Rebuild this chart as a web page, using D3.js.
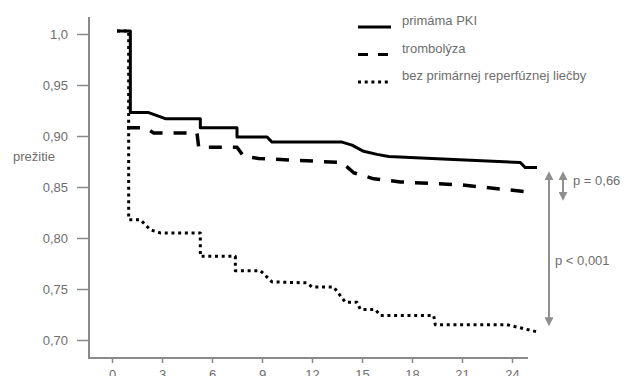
<!DOCTYPE html>
<html>
<head>
<meta charset="utf-8">
<script src="https://cdn.jsdelivr.net/npm/d3@7"></script>
<style>
  body { margin: 0; background: #fff; }
  svg { display: block; }
  text { font-family: "Liberation Sans", Arial, sans-serif; }
</style>
</head>
<body>
<script>
// data (months, survival)
const pki = [[0.3,1.003],[1.1,1.003],[1.1,0.923],[2.2,0.923],[3.2,0.917],[5.3,0.917],[5.3,0.908],
  [7.5,0.908],[7.5,0.899],[9.3,0.899],[9.6,0.894],[13.8,0.894],[14.4,0.891],[15.1,0.885],[15.9,0.882],
  [16.6,0.880],[20.5,0.877],[24.5,0.874],[24.8,0.869],[25.5,0.869]];
const tromb = [[0.9,0.908],[2.0,0.908],[2.5,0.903],[5.1,0.903],[5.2,0.889],[7.5,0.889],[7.9,0.880],
  [8.8,0.878],[13.8,0.874],[14.5,0.864],[15.7,0.858],[17.3,0.855],[21.0,0.852],[25.1,0.845]];
const bez = [[0.3,1.003],[1.0,1.003],[1.0,0.818],[1.7,0.818],[2.3,0.808],[2.9,0.805],[5.3,0.805],
  [5.3,0.782],[7.4,0.782],[7.4,0.768],[8.9,0.768],[9.6,0.757],[11.7,0.756],[12.0,0.752],[13.3,0.752],
  [14.0,0.737],[14.7,0.737],[14.9,0.730],[15.8,0.730],[16.1,0.724],[19.3,0.724],[19.4,0.715],
  [23.7,0.715],[25.5,0.708]];

const seriesNames = ["primáma PKI", "trombolýza", "bez primárnej reperfúznej liečby"];
const xTicks = [0, 3, 6, 9, 12, 15, 18, 21, 24];
const yTicks = [1.0, 0.95, 0.90, 0.85, 0.80, 0.75, 0.70];
const yTickLabels = ["1,0", "0,95", "0,90", "0,85", "0,80", "0,75", "0,70"];
const yTitle = "prežitie";
// p-value brackets: [top, bottom, label]
const pBig = [0.864, 0.715, "p < 0,001"];
const pSmall = [0.864, 0.838, "p = 0,66"];

const W = 635, H = 376;
const frame = {left: 89, right: 528, top: 17, bottom: 358};

const svg = d3.select("body").append("svg")
  .attr("width", W).attr("height", H);

const x = d3.scaleLinear().domain([0, 24]).range([112, 512]);
const y = d3.scaleLinear().domain([0.70, 1.0]).range([340, 34]);

const axisGrey = "#8a8a8a", textGrey = "#6e6e6e";

// axis frame lines
svg.append("line")
  .attr("x1", frame.left).attr("x2", frame.left)
  .attr("y1", frame.top).attr("y2", frame.bottom)
  .attr("stroke", axisGrey).attr("stroke-width", 2);
svg.append("line")
  .attr("x1", frame.left - 1).attr("x2", frame.right)
  .attr("y1", frame.bottom).attr("y2", frame.bottom)
  .attr("stroke", axisGrey).attr("stroke-width", 2);

// Y axis
const gy = svg.append("g")
  .attr("transform", "translate(" + frame.left + ",0)")
  .call(d3.axisLeft(y).tickValues(yTicks).tickSize(12).tickPadding(9)
    .tickFormat((d, i) => yTickLabels[i]));
gy.select(".domain").remove();
gy.selectAll("line").attr("stroke", axisGrey).attr("stroke-width", 1.5);
gy.selectAll("text").attr("fill", textGrey).style("font-size", "13px");

// X axis
const gx = svg.append("g")
  .attr("transform", "translate(0," + frame.bottom + ")")
  .call(d3.axisBottom(x).tickValues(xTicks).tickSize(5).tickPadding(7));
gx.select(".domain").remove();
gx.selectAll("line").attr("stroke", axisGrey).attr("stroke-width", 1.5);
gx.selectAll("text").attr("fill", textGrey).style("font-size", "13px");

svg.append("text")
  .attr("x", 13).attr("y", 161)
  .attr("fill", textGrey).style("font-size", "13px")
  .text(yTitle);

// curves
const line = d3.line().x(d => x(d[0])).y(d => y(d[1]));
const styles = [
  {data: pki, width: 3, dash: null, cap: "butt"},
  {data: tromb, width: 3.5, dash: "13,11", cap: "butt"},
  {data: bez, width: 3, dash: "3,3.7", cap: "butt"}
];
// draw dotted first, then dashed, then solid on top
[2, 1, 0].forEach(i => {
  const s = styles[i];
  svg.append("path")
    .attr("d", line(s.data))
    .attr("fill", "none")
    .attr("stroke", "#000")
    .attr("stroke-width", s.width)
    .attr("stroke-dasharray", s.dash)
    .attr("stroke-linejoin", "round")
    .attr("stroke-linecap", s.cap);
});

// legend
const legDash = [null, "10,10", "3,3.7"];
const leg = svg.append("g");
seriesNames.forEach((name, i) => {
  const ly = 27 + i * 27.5;
  leg.append("line")
    .attr("x1", 358).attr("x2", 391)
    .attr("y1", ly).attr("y2", ly)
    .attr("stroke", "#000").attr("stroke-width", 3)
    .attr("stroke-dasharray", legDash[i]);
  leg.append("text")
    .attr("x", 402).attr("y", ly - 2)
    .attr("fill", textGrey).style("font-size", "13px")
    .text(name);
});

// p-value arrows
const defs = svg.append("defs");
defs.append("marker")
  .attr("id", "head")
  .attr("viewBox", "0 0 10 10")
  .attr("refX", 5).attr("refY", 5)
  .attr("markerWidth", 4.5).attr("markerHeight", 4.5)
  .attr("orient", "auto-start-reverse")
  .append("path").attr("d", "M0,0L10,5L0,10Z").attr("fill", "#8f8f8f");

function pArrow(p, ax) {
  svg.append("line")
    .attr("x1", ax).attr("x2", ax)
    .attr("y1", y(p[0]) + 3).attr("y2", y(p[1]) - 3)
    .attr("stroke", "#8f8f8f").attr("stroke-width", 2)
    .attr("marker-start", "url(#head)")
    .attr("marker-end", "url(#head)");
}
pArrow(pBig, 549);
pArrow(pSmall, 563);

svg.append("text")
  .attr("x", 573).attr("y", y(pSmall[0]) + 12)
  .attr("fill", textGrey).style("font-size", "13px")
  .text(pSmall[2]);
svg.append("text")
  .attr("x", 555).attr("y", 265)
  .attr("fill", textGrey).style("font-size", "13px")
  .text(pBig[2]);
</script>
</body>
</html>
